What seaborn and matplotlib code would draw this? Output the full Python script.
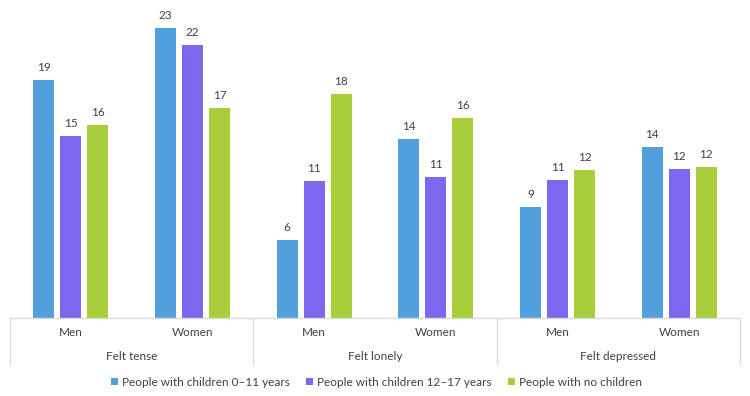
import matplotlib
matplotlib.use("Agg")
import matplotlib.pyplot as plt
import matplotlib.transforms as mtransforms
import seaborn as sns
import pandas as pd

# ---- data ----
measures = ["Felt tense", "Felt lonely", "Felt depressed"]
genders = ["Men", "Women"]
series = ["People with children 0\u201311 years",
          "People with children 12\u201317 years",
          "People with no children"]
children_0_11 = [19.1, 23.3, 6.3, 14.4, 8.9, 13.7]
children_12_17 = [14.6, 21.9, 11.0, 11.3, 11.1, 12.0]
no_children = [15.5, 16.9, 18.0, 16.1, 11.9, 12.1]

colors = ["#519FDD", "#7B68EE", "#A8CE3A"]

groups = [f"{m}|{g}" for m in measures for g in genders]
rows = []
for s, vals in zip(series, [children_0_11, children_12_17, no_children]):
    for grp, v in zip(groups, vals):
        rows.append({"group": grp, "series": s, "value": v})
df = pd.DataFrame(rows)

sns.set_theme(style="white")
plt.rcParams["font.family"] = ["Lato", "DejaVu Sans"]
text_color = "#404040"
line_color = "#D9D9D9"
fs = 8.5

fig = plt.figure(figsize=(7.5, 3.96), dpi=100)
ax = fig.add_axes([10 / 750, 78 / 396, 730 / 750, 313 / 396])

sns.barplot(data=df, x="group", y="value", hue="series", order=groups,
            hue_order=series, palette=colors, width=0.666, gap=0.22,
            saturation=1, linewidth=0, ax=ax, legend=True)

for cont in ax.containers:
    ax.bar_label(cont, fmt="%.0f", padding=5, fontsize=fs, color=text_color)

ax.set_xlim(-0.5, len(groups) - 0.5)
ax.set_ylim(0, 313 / 12.45)
for sp in ax.spines.values():
    sp.set_visible(False)
ax.set_yticks([])
ax.set_xticks([])
ax.set_xlabel("")
ax.set_ylabel("")

# baseline and category separators
trans = mtransforms.blended_transform_factory(ax.transData, fig.transFigure)
base_y = 1 - 318 / 396
bottom_y = 1 - 364 / 396
ax.plot([-0.5, len(groups) - 0.5], [base_y, base_y], transform=trans,
        color=line_color, lw=1, clip_on=False)
for xb in [-0.5, 1.5, 3.5, 5.5]:
    ax.plot([xb, xb], [base_y, bottom_y], transform=trans,
            color=line_color, lw=1, clip_on=False)

for i, grp in enumerate(groups):
    ax.text(i, 1 - 333 / 396, grp.split("|")[1], transform=trans,
            ha="center", va="center", fontsize=fs, color=text_color)
for j, m in enumerate(measures):
    ax.text(2 * j + 0.5, 1 - 356 / 396, m, transform=trans,
            ha="center", va="center", fontsize=fs, color=text_color)

leg = ax.legend(loc="center", bbox_to_anchor=(0.502, 1 - 382 / 396),
                bbox_transform=fig.transFigure, ncol=3, frameon=False,
                fontsize=fs, handlelength=0.6, handleheight=0.6,
                handletextpad=0.3, columnspacing=1.4)
for t in leg.get_texts():
    t.set_color(text_color)

fig.savefig("out.png", dpi=100)
